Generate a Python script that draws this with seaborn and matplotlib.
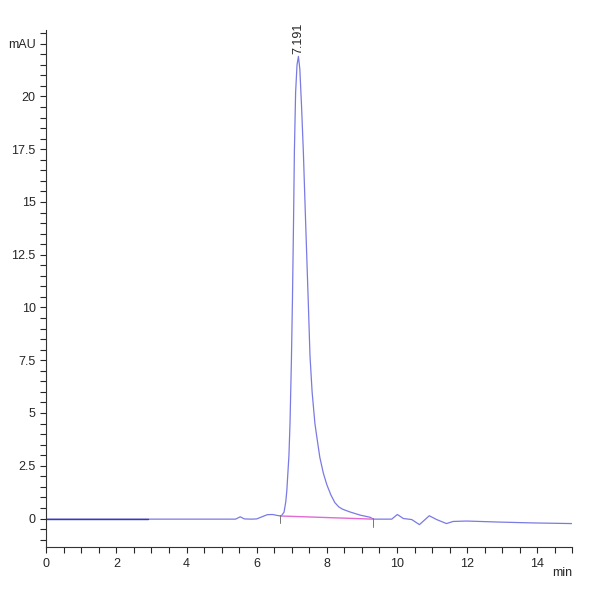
import pandas as pd
import matplotlib
matplotlib.use("Agg")
import matplotlib.pyplot as plt
import seaborn as sns
from matplotlib.ticker import MultipleLocator

# --- data ---
time_min = [0.0, 2.9, 5.4, 5.53, 5.65, 5.85, 6.0, 6.15, 6.3, 6.45, 6.6, 6.7,
             6.78, 6.83, 6.86, 6.92, 6.95, 6.99, 7.02, 7.05, 7.075, 7.11, 7.15,
             7.19, 7.23, 7.28, 7.33, 7.40, 7.47, 7.52, 7.58, 7.66, 7.72, 7.80,
             7.90, 8.0, 8.12, 8.23, 8.34, 8.45, 8.66, 8.95, 9.23, 9.33, 9.85,
             10.01, 10.18, 10.42, 10.64, 10.92, 11.13, 11.41, 11.6, 11.98, 12.93,
             13.88, 14.98]
signal_mau = [-0.03, -0.03, -0.03, 0.08, -0.02, -0.03, -0.02, 0.08, 0.18, 0.19,
              0.14, 0.12, 0.3, 0.8, 1.34, 3.0, 4.5, 7.5, 10.4, 14.0, 17.4, 20.2,
              21.5, 21.9, 21.3, 19.5, 17.4, 13.8, 10.3, 7.7, 6.0, 4.5, 3.8, 2.9,
              2.15, 1.6, 1.1, 0.75, 0.55, 0.44, 0.31, 0.16, 0.06, -0.03, -0.03,
              0.19, 0.0, -0.05, -0.29, 0.13, -0.05, -0.24, -0.14, -0.12, -0.17,
              -0.21, -0.24]

baseline_t = [6.67, 9.32]
baseline_y = [0.12, -0.03]

peak_rt = 7.191
peak_height = 21.9

df = pd.DataFrame({"t": time_min, "mAU": signal_mau})
base = pd.DataFrame({"t": baseline_t, "mAU": baseline_y})

sns.set_style("ticks")
plt.rcParams['font.family'] = ['Liberation Sans Narrow', 'Liberation Sans', 'DejaVu Sans']

fig = plt.figure(figsize=(6, 6), dpi=100)
ax = fig.add_axes([0.077, 0.088, 0.877, 0.862])

# signal trace
sns.lineplot(data=df, x="t", y="mAU", ax=ax, color="#7a7ae4", linewidth=0.9,
             estimator=None)
# darker first stretch, as in the original export
sns.lineplot(data=df[df["t"] <= 2.9], x="t", y="mAU", ax=ax, color="#3a3aa0",
             linewidth=1.0, estimator=None)
# integration baseline
sns.lineplot(data=base, x="t", y="mAU", ax=ax, color="#e26ad2", linewidth=1.0,
             estimator=None)
# small markers at baseline ends
for bt, by in zip(baseline_t, baseline_y):
    ax.plot([bt, bt], [by - 0.35, by + 0.05], color="#777777", linewidth=0.7)

ax.text(peak_rt, peak_height + 0.1, "7.191", rotation=90, ha="center", va="bottom",
        fontsize=9, color="#222222")

ax.set_xlim(0, 15)
ax.set_ylim(-1.36, 23.15)
ax.xaxis.set_minor_locator(MultipleLocator(0.5))
ax.yaxis.set_minor_locator(MultipleLocator(0.5))

yt = [0, 2.5, 5, 7.5, 10, 12.5, 15, 17.5, 20, 22.5]
ax.set_yticks(yt)
ax.set_yticklabels(["0", "2.5", "5", "7.5", "10", "12.5", "15", "17.5", "20", "mAU"])
ax.set_xticks([0, 2, 4, 6, 8, 10, 12, 14])
ax.set_xticklabels(["0", "2", "4", "6", "8", "10", "12", "14"])
ax.text(15, -2.3, "min", ha="right", va="top", fontsize=9)

ax.tick_params(axis="both", which="major", length=4, width=0.8, labelsize=9,
               direction="out")
ax.tick_params(axis="both", which="minor", length=4, width=0.8, direction="out")
ax.set_xlabel("")
ax.set_ylabel("")
sns.despine(ax=ax)
for s in ["left", "bottom"]:
    ax.spines[s].set_linewidth(0.8)
    ax.spines[s].set_color("#333333")

fig.savefig("out.png", dpi=100)
